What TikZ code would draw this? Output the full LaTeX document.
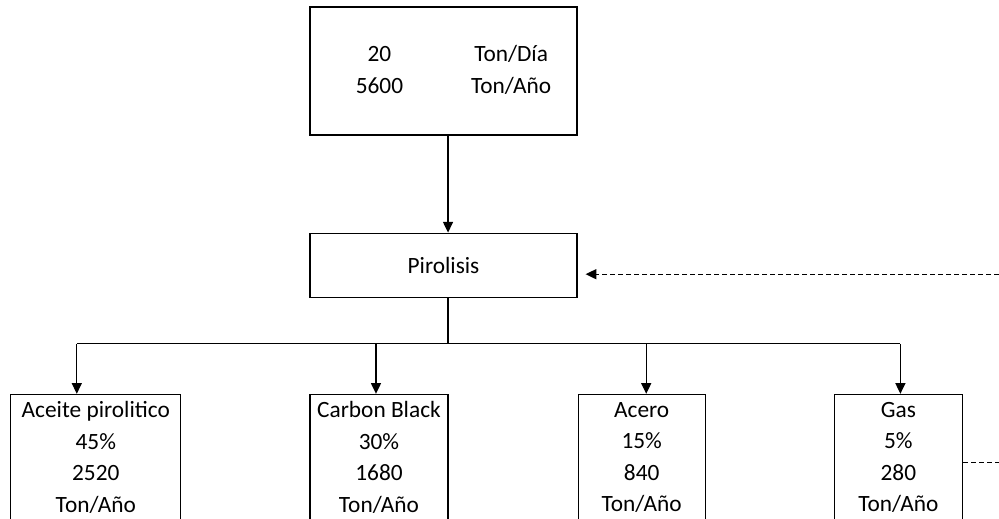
\documentclass[tikz,border=0pt]{standalone}
\usepackage{fontspec}
\setmainfont{Carlito}
\usetikzlibrary{positioning,arrows.meta}

\begin{document}
\begin{tikzpicture}[line width=0.9pt, every node/.style={font=\fontsize{17.5}{23.6}\selectfont}]
  \tikzset{
    process/.style={draw, rectangle, minimum height=48pt, minimum width=200.25pt, text centered},
    product/.style={draw, rectangle, minimum height=94.5pt, inner sep=2pt, align=center},
    flow/.style={-{Triangle[length=8pt,width=7.5pt]}},
    recycle/.style={dash pattern=on 3.5pt off 2.5pt}
  }

  \coordinate (tl) at (-332.625pt,53.25pt);
  \coordinate (br) at (416.625pt,-335.25pt);
  \useasboundingbox (tl) rectangle (br);
  \clip (tl) rectangle (br);

  \node[process, minimum height=96pt] (feed) at (0,0) {\hspace*{15pt}\begin{tabular}{@{}c@{\hspace{51pt}}c@{}}20 & Ton/Día\\ 5600 & Ton/Año\end{tabular}};
  \node[process, below=72.75pt of feed] (pyro) {Pirolisis};

  \node[product, minimum width=103.5pt, below=72pt of pyro.south west, anchor=north west] (carbon) {Carbon Black\\30\%\\1680\\Ton/Año};
  \node[product, minimum width=127.5pt, left=96pt of carbon] (oil) {Aceite pirolitico\\45\%\\2520\\Ton/Año};
  \node[product, minimum width=95.25pt, right=96.75pt of carbon] (steel) {Acero\\15\%\\840\\Ton/Año};
  \node[product, minimum width=96pt, right=96pt of steel] (gas) {Gas\\5\%\\280\\Ton/Año};

  \coordinate (split) at ([xshift=3.4pt,yshift=-34.5pt]pyro.south);
  \coordinate (oilin) at ([xshift=-14.25pt]oil.north);
  \coordinate (carbonin) at ([xshift=-2.25pt]carbon.north);
  \coordinate (steelin) at ([xshift=3.4pt]steel.north);
  \coordinate (gasin) at ([xshift=1.5pt]gas.north);
  \coordinate (backin) at ([yshift=-6.75pt]pyro.east -| br);
  \coordinate (gasout) at ([yshift=-4pt]gas.east -| br);

  \draw[flow] ([xshift=3.4pt]feed.south) -- ([xshift=3.4pt]pyro.north);
  \draw ([xshift=3.4pt]pyro.south) -- (split);
  \draw (oilin |- split) -- (gasin |- split);
  \foreach \p in {oilin,carbonin,steelin,gasin}
    \draw[flow] (\p |- split) -- (\p);

  \draw[recycle, flow, shorten >=6pt] (backin) -- ([yshift=-6.75pt]pyro.east);
  \draw[recycle] ([yshift=-4pt]gas.east) -- (gasout);
\end{tikzpicture}
\end{document}
